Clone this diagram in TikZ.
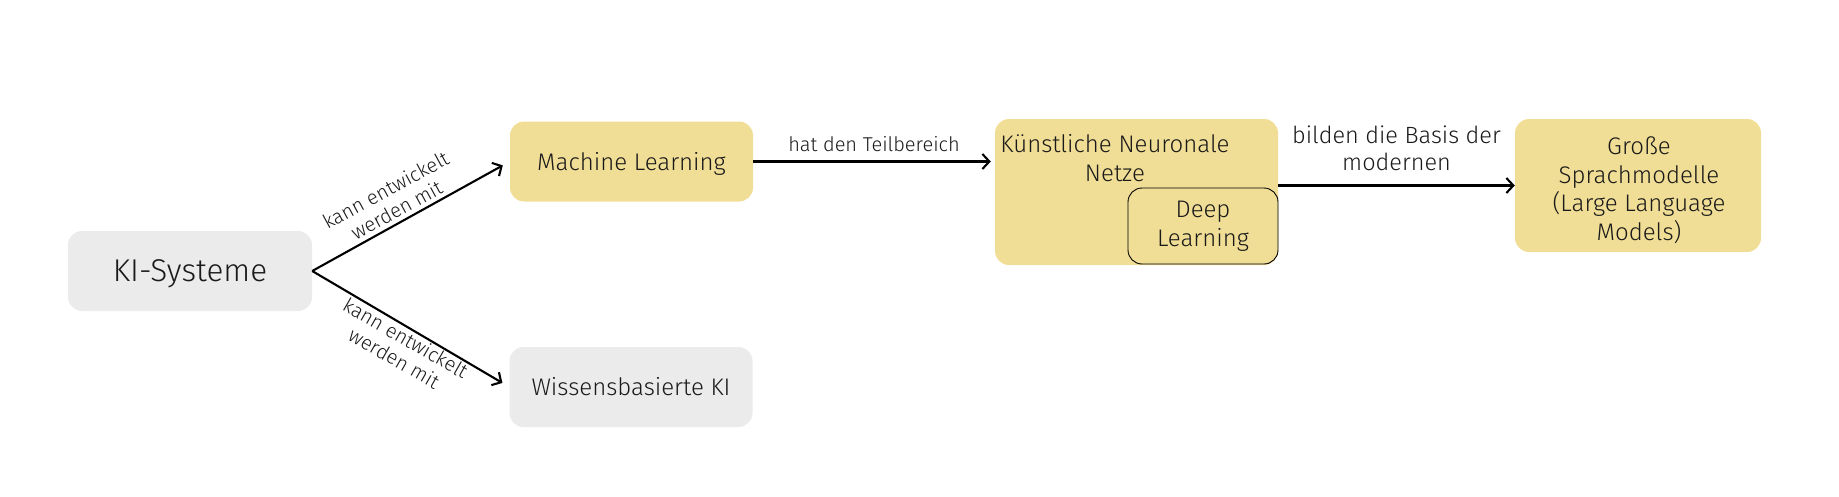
\documentclass[tikz,border=0pt]{standalone}
\usepackage{fontspec}
\setmainfont{Fira Sans}[UprightFont={* Light}]
\usetikzlibrary{arrows.meta}
\definecolor{boxgrey}{HTML}{EBEBEB}
\definecolor{boxyellow}{HTML}{F1DE96}
\definecolor{txt}{HTML}{1A1A1A}
\begin{document}
\begin{tikzpicture}[x=1pt,y=-1pt,
  box/.style={rounded corners=14pt, minimum width=243pt, minimum height=80pt, inner sep=0pt, align=center, text=txt},
  greybox/.style={box, fill=boxgrey},
  yellowbox/.style={box, fill=boxyellow},
  conn/.style={-{Straight Barb[length=7pt,width=15pt]}, line width=2.1pt, draw=black},
  lbl/.style={font=\fontsize{20}{23}\selectfont, text=txt, align=center, inner sep=0pt},
  boxfont/.style={font=\fontsize{24}{29}\selectfont}
]
\path[use as bounding box] (0,0) rectangle (1839,496);

\node[greybox, minimum width=244pt, text depth=0pt, font=\fontsize{31.5}{36}\selectfont] (ki) at (190,271) {KI-Systeme};
\node[yellowbox, boxfont, text depth=0pt] (ml) at (631.5,161.5) {Machine Learning};
\node[greybox, boxfont] (wb) at (631,387) {Wissensbasierte KI};

\node[yellowbox, minimum width=283pt, minimum height=146pt] (knn) at (1136.5,192) {};
\node[boxfont, text=txt, align=center, inner sep=0pt, anchor=base] (knntitle) at (1115,181) {Künstliche Neuronale\\Netze};
\node[yellowbox, draw=black, line width=0.9pt, minimum width=150pt, minimum height=76pt, boxfont] (dl) at (1203,226) {Deep\\Learning};

\node[yellowbox, minimum width=246pt, minimum height=133pt] (llm) at (1638,185.5) {};
\node[font=\fontsize{24}{28.5}\selectfont, text=txt, align=center, inner sep=0pt, anchor=base] (llmtext) at (1639,240) {Große\\Sprachmodelle\\(Large Language\\Models)};

\draw[conn, shorten >=8pt] (ki.east) -- (ml.west);
\draw[conn, shorten >=8pt] (ki.east) -- (wb.west);
\draw[conn, shorten >=4pt] (ml.east) -- (ml.east -| knn.west)
  node[lbl, midway, above=9pt] (lab1) {hat den Teilbereich};
\draw[conn] (knn.east |- llm.west) -- (llm.west)
  node[lbl, font=\fontsize{23.5}{26.5}\selectfont, midway, above=14pt] (lab2) {bilden die Basis der\\modernen};

\node[lbl, rotate=28.5] (lab3) at (391,200) {kann entwickelt\\werden mit};
\node[lbl, rotate=-29.8] (lab4) at (400,348) {kann entwickelt\\werden mit};
\end{tikzpicture}
\end{document}
